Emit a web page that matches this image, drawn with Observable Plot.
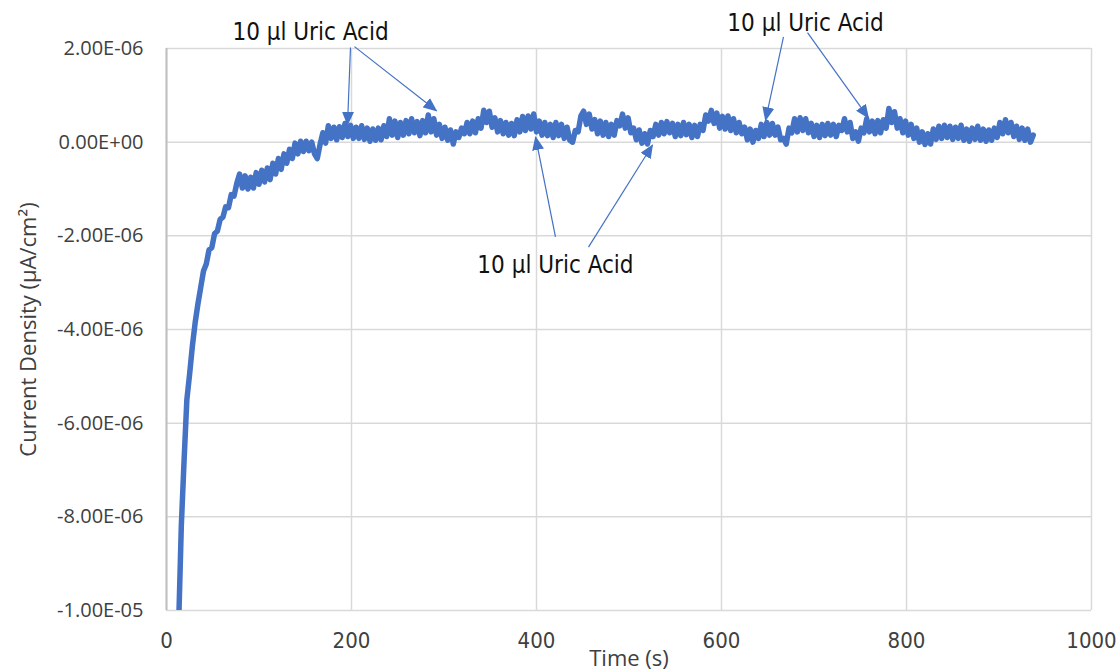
<!DOCTYPE html>
<html>
<head>
<meta charset="utf-8">
<script src="https://cdn.jsdelivr.net/npm/d3@7"></script>
<script src="https://cdn.jsdelivr.net/npm/@observablehq/plot@0.6"></script>
<style>
  html, body { margin: 0; padding: 0; background: #ffffff; }
  #chart { width: 1118px; height: 671px; }
</style>
</head>
<body>
<div id="chart"></div>
<script>
// ---- Data (current density in units of 1E-06 µA/cm²) ----
const timeStart = 13;      // s, first sample
const timeStep = 3;        // s, sampling interval used when reading the trace
const current = [
  -10.4, -8.2, -6.8, -5.5, -4.95, -4.35, -3.85, -3.45, -3.1, -2.75,
  -2.6, -2.3, -2.25, -1.95, -1.9, -1.65, -1.6, -1.38, -1.4, -1.12,
  -1.15, -0.88, -0.68, -0.98, -0.72, -1.0, -0.75, -0.98, -0.65, -0.9,
  -0.6, -0.85, -0.55, -0.8, -0.45, -0.68, -0.35, -0.58, -0.25, -0.45,
  -0.15, -0.35, -0.02, -0.25, 0.02, -0.2, 0.02, -0.18, 0.0, -0.25,
  -0.35, -0.05, 0.2, -0.02, 0.35, 0.08, 0.32, 0.05, 0.33, 0.1,
  0.4, 0.12, 0.36, 0.08, 0.32, 0.08, 0.35, 0.06, 0.3, 0.02,
  0.28, 0.04, 0.3, 0.05, 0.35, 0.12, 0.5, 0.15, 0.45, 0.1,
  0.42, 0.15, 0.46, 0.18, 0.5, 0.2, 0.44, 0.14, 0.46, 0.2,
  0.58, 0.22, 0.5, 0.15, 0.38, 0.08, 0.32, 0.04, 0.26, -0.04,
  0.22, 0.1, 0.3, 0.18, 0.42, 0.18, 0.45, 0.2, 0.5, 0.3,
  0.68, 0.42, 0.66, 0.32, 0.52, 0.22, 0.46, 0.18, 0.42, 0.15,
  0.4, 0.14, 0.48, 0.22, 0.55, 0.25, 0.56, 0.28, 0.6, 0.22,
  0.45, 0.15, 0.42, 0.14, 0.38, 0.1, 0.42, 0.14, 0.38, 0.08,
  0.32, 0.04, 0.0, 0.25, 0.22, 0.56, 0.66, 0.38, 0.6, 0.28,
  0.48, 0.18, 0.45, 0.15, 0.42, 0.12, 0.38, 0.15, 0.46, 0.35,
  0.6, 0.3, 0.52, 0.2, 0.3, 0.05, 0.26, -0.02, 0.18, -0.04,
  0.25, 0.12, 0.38, 0.15, 0.42, 0.18, 0.44, 0.2, 0.4, 0.12,
  0.38, 0.14, 0.42, 0.16, 0.38, 0.1, 0.36, 0.12, 0.38, 0.25,
  0.58, 0.45, 0.68, 0.4, 0.62, 0.3, 0.55, 0.28, 0.56, 0.25,
  0.5, 0.2, 0.42, 0.18, 0.32, 0.05, 0.28, 0.0, 0.25, 0.08,
  0.38, 0.12, 0.42, 0.15, 0.4, 0.15, 0.32, 0.05, 0.08, -0.04,
  0.3, 0.2, 0.5, 0.22, 0.52, 0.25, 0.5, 0.2, 0.4, 0.12,
  0.36, 0.1, 0.38, 0.14, 0.4, 0.15, 0.38, 0.12, 0.36, 0.25,
  0.5, 0.22, 0.42, 0.08, 0.22, 0.02, 0.3, 0.2, 0.5, 0.22,
  0.45, 0.18, 0.46, 0.2, 0.48, 0.3, 0.72, 0.42, 0.65, 0.3,
  0.5, 0.2, 0.45, 0.15, 0.38, 0.08, 0.3, 0.0, 0.22, -0.05,
  0.18, -0.04, 0.28, 0.06, 0.34, 0.08, 0.36, 0.1, 0.34, 0.06,
  0.32, 0.08, 0.36, 0.04, 0.28, 0.02, 0.3, 0.06, 0.34, 0.04,
  0.28, 0.02, 0.26, 0.04, 0.3, 0.1, 0.42, 0.18, 0.48, 0.2,
  0.42, 0.12, 0.34, 0.06, 0.3, 0.04, 0.28, 0.0, 0.15
];

const xTicks = [0, 200, 400, 600, 800, 1000];
const yTicks = [-10, -8, -6, -4, -2, 0, 2];   // ×1E-06

const xTitle = "Time (s)";
const yTitle = "Current Density (µA/cm²)";

// Annotations ("10 µl Uric Acid")
const annotationText = ["10 µl Uric Acid", "10 µl Uric Acid", "10 µl Uric Acid"];
const annotationT = [155.7, 690.8, 420.5];
const annotationV = [2.34, 2.53, -2.62];

const arrowFromT = [198.9, 203.2, 667.0, 693.0, 420.5, 456.2];
const arrowFromV = [2.02, 2.04, 2.25, 2.34, -2.02, -2.24];
const arrowToT   = [195.7, 291.9, 647.6, 758.9, 399.0, 525.4];
const arrowToV   = [0.37, 0.67, 0.47, 0.52, 0.11, -0.06];

// ---- Build tables ----
const series = current.map((v, i) => ({t: timeStart + i * timeStep, v}));
const labels = annotationText.map((s, i) => ({s, t: annotationT[i], v: annotationV[i]}));
const arrows = arrowFromT.map((t1, i) => ({t1, v1: arrowFromV[i], t2: arrowToT[i], v2: arrowToV[i]}));

const fmtE = d => (d * 1e-6).toExponential(2).toUpperCase().replace(/E([+-])(\d)$/, "E$10$2");

const narrow = "'Liberation Sans Narrow', 'DejaVu Sans Condensed', 'Arial Narrow', sans-serif";
const sans = "'Open Sans', 'Noto Sans', sans-serif";
const blue = "#4472C4";
const grid = "#d9d9d9";
const textGrey = "#404040";

const chart = Plot.plot({
  width: 1118,
  height: 671,
  marginLeft: 166,
  marginRight: 27,
  marginTop: 48,
  marginBottom: 61,
  style: {fontFamily: sans, fontSize: "20px", background: "#ffffff", color: textGrey},
  x: {domain: [0, 1000]},
  y: {domain: [-10, 2]},
  marks: [
    Plot.gridX(xTicks, {stroke: grid, strokeOpacity: 1, strokeWidth: 1.5}),
    Plot.gridY(yTicks, {stroke: grid, strokeOpacity: 1, strokeWidth: 1.5}),
    Plot.ruleX([0], {stroke: "#bfbfbf", strokeWidth: 2}),
    Plot.axisX(xTicks, {tickSize: 0, tickPadding: 22, label: null, tickFormat: d => String(d), fontSize: 22, fontFamily: narrow, fill: textGrey}),
    Plot.axisY(yTicks, {tickSize: 0, tickPadding: 23, tickFormat: fmtE, fontSize: 20, fontFamily: sans, fill: textGrey,
      label: yTitle, labelAnchor: "center", labelOffset: 146, labelArrow: "none"}),
    Plot.line(series, {x: "t", y: "v", stroke: blue, strokeWidth: 5.5, clip: true, strokeLinejoin: "round"}),
    Plot.link(arrows, {x1: "t1", y1: "v1", x2: "t2", y2: "v2", stroke: blue, strokeWidth: 1.2}),
    Plot.text(labels, {x: "t", y: "v", text: "s", fontSize: 24, fontFamily: narrow, fill: "#111111", textAnchor: "middle", lineAnchor: "middle"}),
    Plot.text([xTitle], {frameAnchor: "bottom", dy: 48, fontSize: 22, fontFamily: sans, fill: textGrey, lineAnchor: "middle"})
  ]
});

// filled triangle heads for the annotation arrows
const svg = d3.select(chart);
const defs = svg.insert("defs", ":first-child");
defs.append("marker")
  .attr("id", "tri-head")
  .attr("viewBox", "0 0 14 12")
  .attr("refX", 13)
  .attr("refY", 6)
  .attr("markerWidth", 14)
  .attr("markerHeight", 12)
  .attr("markerUnits", "userSpaceOnUse")
  .attr("orient", "auto")
  .append("path")
  .attr("d", "M0,0L14,6L0,12Z")
  .attr("fill", blue);
svg.selectAll('g[aria-label="link"] path, g[aria-label="link"]').attr("marker-end", "url(#tri-head)");
// slightly larger y-axis title, as in the reference
svg.selectAll('g[aria-label="y-axis label"] text, g[aria-label="y-axis label"]').style("font-size", "22px");

document.getElementById("chart").appendChild(chart);
</script>
</body>
</html>
